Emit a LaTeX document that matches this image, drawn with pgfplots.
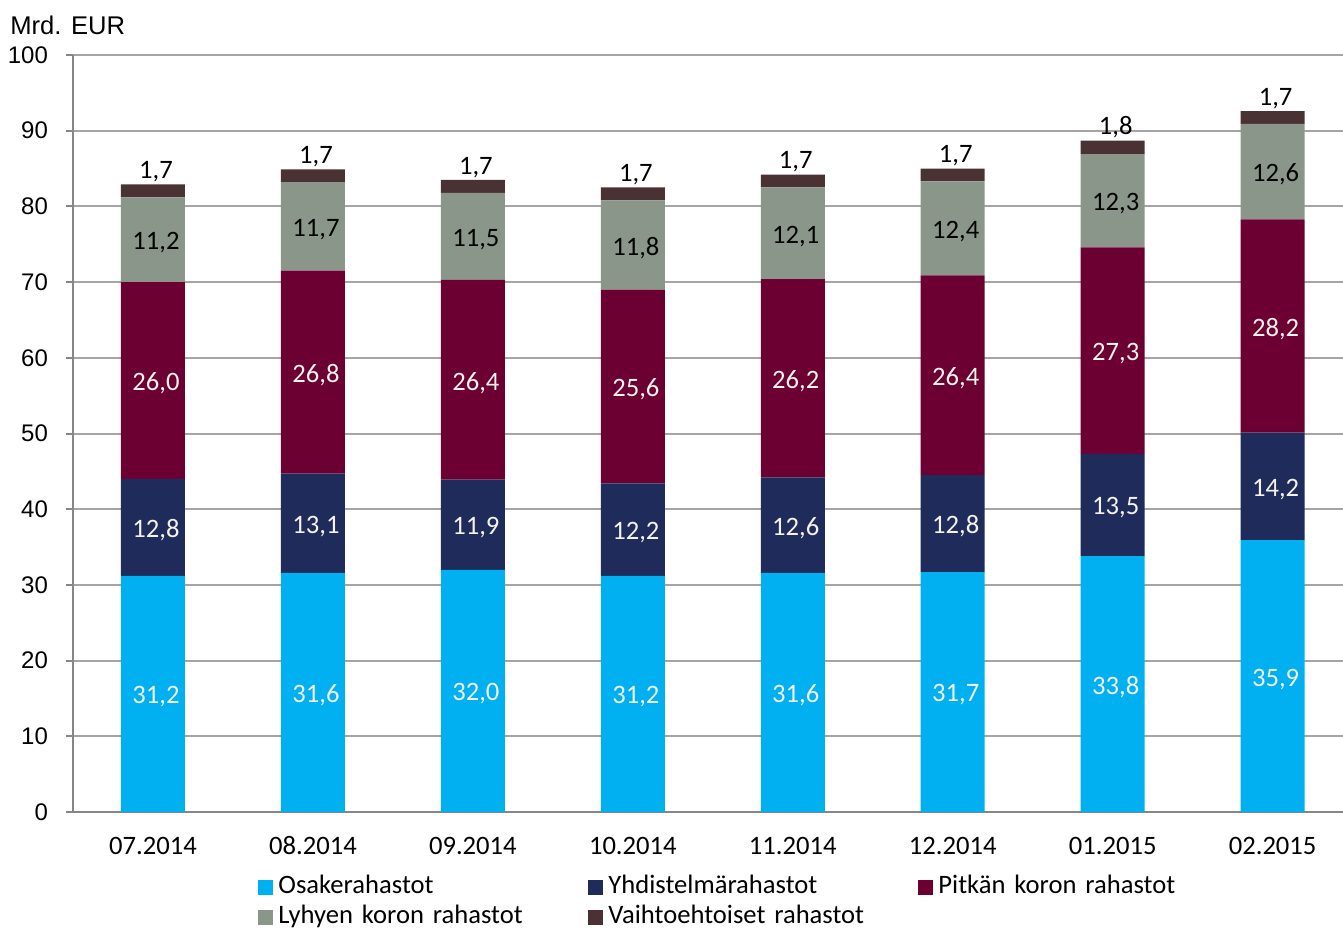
\documentclass[border=0pt]{standalone}
\usepackage{pgfplots}
\pgfplotsset{compat=1.18}
\usepackage{fontspec}
\setmainfont{Carlito}
\newfontfamily\arialfont{Liberation Sans}
\usetikzlibrary{calc}

\definecolor{cOsake}{RGB}{0,176,240}
\definecolor{cYhd}{RGB}{31,43,91}
\definecolor{cPit}{RGB}{108,0,51}
\definecolor{cLyh}{RGB}{139,150,138}
\definecolor{cVai}{RGB}{74,50,52}
\definecolor{gridc}{RGB}{165,165,165}
\definecolor{axisc}{RGB}{134,134,134}
\definecolor{lbl}{RGB}{244,242,234}

\pgfplotsset{
  base/.style={scale only axis, width=635pt, height=378.5pt,
    xmin=-0.5, xmax=7.44, ymin=0, ymax=100},
  sq/.style={legend image code/.code={\fill[##1] (0pt,-3.75pt) rectangle (7.5pt,3.75pt);}},
}

\begin{document}
\begin{tikzpicture}
\begin{axis}[base,
  ybar stacked, bar width=32pt,
  axis lines=left,
  axis line style={-, draw=axisc, line width=1pt},
  ytick={0,10,...,100},
  ymajorgrids, grid style={draw=gridc, line width=1pt},
  tick align=outside, major tick length=3.5pt,
  ytick style={draw=axisc, line width=1pt},
  xtick={0,...,7},
  xticklabels={07.2014,08.2014,09.2014,10.2014,11.2014,12.2014,01.2015,02.2015},
  xtick style={draw=none},
  yticklabel style={font=\arialfont\fontsize{12}{14}\selectfont, xshift=-5.5pt},
  xticklabel style={font=\fontsize{13.3}{15}\selectfont, text height=9pt, text depth=2pt, yshift=-5pt},
  /pgf/number format/assume math mode=true,
  clip=false,
  legend columns=3,
  legend style={at={(0.1457,-0.084)}, anchor=north west, draw=none, fill=none,
    inner sep=0pt, font=\fontsize{13.3}{15}\selectfont,
    nodes={anchor=west, text width=150pt, inner xsep=2.5pt, inner ysep=0pt,
      text height=9pt, text depth=3pt},
    /tikz/every even column/.append style={column sep=2.5pt},
    row sep=3pt},
]
\addplot[fill=cOsake, draw=none, sq] coordinates {(0,31.2) (1,31.6) (2,32.0) (3,31.2) (4,31.6) (5,31.7) (6,33.8) (7,35.9)};
\addlegendentry{Osakerahastot}
\addplot[fill=cYhd, draw=none, sq] coordinates {(0,12.8) (1,13.1) (2,11.9) (3,12.2) (4,12.6) (5,12.8) (6,13.5) (7,14.2)};
\addlegendentry{Yhdistelmärahastot}
\addplot[fill=cPit, draw=none, sq] coordinates {(0,26.0) (1,26.8) (2,26.4) (3,25.6) (4,26.2) (5,26.4) (6,27.3) (7,28.2)};
\addlegendentry{Pitkän koron rahastot}
\addplot[fill=cLyh, draw=none, sq] coordinates {(0,11.2) (1,11.7) (2,11.5) (3,11.8) (4,12.1) (5,12.4) (6,12.3) (7,12.6)};
\addlegendentry{Lyhyen koron rahastot}
\addplot[fill=cVai, draw=none, sq] coordinates {(0,1.7) (1,1.7) (2,1.7) (3,1.7) (4,1.7) (5,1.7) (6,1.8) (7,1.7)};
\addlegendentry{Vaihtoehtoiset rahastot}
\coordinate (BL) at (rel axis cs:0,0);
\coordinate (TR) at (rel axis cs:1,1);
\node[anchor=west, font=\arialfont\fontsize{12.8}{14}\selectfont, inner sep=0pt] at ($(rel axis cs:0,1)+(-31.5pt,15pt)$) {Mrd. EUR};
\end{axis}

\begin{axis}[base, hide axis, clip=false,
  point meta=explicit symbolic, nodes near coords,
  every node near coord/.append style={font=\fontsize{13.3}{15}\selectfont, xshift=1.5pt}]
\addplot[draw=none, nodes near coords align={center}, every node near coord/.append style={text=lbl, yshift=-1.5pt}]
 coordinates {(0,15.6)[31,2] (1,15.8)[31,6] (2,16.0)[32,0] (3,15.6)[31,2] (4,15.8)[31,6] (5,15.85)[31,7] (6,16.9)[33,8] (7,17.95)[35,9]};
\addplot[draw=none, nodes near coords align={center}, every node near coord/.append style={text=lbl, yshift=-1.5pt}]
 coordinates {(0,37.6)[12,8] (1,38.15)[13,1] (2,37.95)[11,9] (3,37.3)[12,2] (4,37.9)[12,6] (5,38.1)[12,8] (6,40.55)[13,5] (7,43.0)[14,2]};
\addplot[draw=none, nodes near coords align={center}, every node near coord/.append style={text=lbl, yshift=-1.5pt}]
 coordinates {(0,57.0)[26,0] (1,58.1)[26,8] (2,57.1)[26,4] (3,56.2)[25,6] (4,57.3)[26,2] (5,57.7)[26,4] (6,60.95)[27,3] (7,64.2)[28,2]};
\addplot[draw=none, nodes near coords align={center}, every node near coord/.append style={text=black, yshift=-1.5pt}]
 coordinates {(0,75.6)[11,2] (1,77.35)[11,7] (2,76.05)[11,5] (3,74.9)[11,8] (4,76.45)[12,1] (5,77.1)[12,4] (6,80.75)[12,3] (7,84.6)[12,6]};
\addplot[draw=none, every node near coord/.append style={text=black, inner sep=1pt}]
 coordinates {(0,82.9)[1,7] (1,84.9)[1,7] (2,83.5)[1,7] (3,82.5)[1,7] (4,84.2)[1,7] (5,85.0)[1,7] (6,88.7)[1,8] (7,92.6)[1,7]};
\end{axis}
\pgfresetboundingbox
\path[use as bounding box] ($(BL)+(-36.5pt,-60pt)$) rectangle ($(TR)+(0pt,27.5pt)$);
\end{tikzpicture}
\end{document}
